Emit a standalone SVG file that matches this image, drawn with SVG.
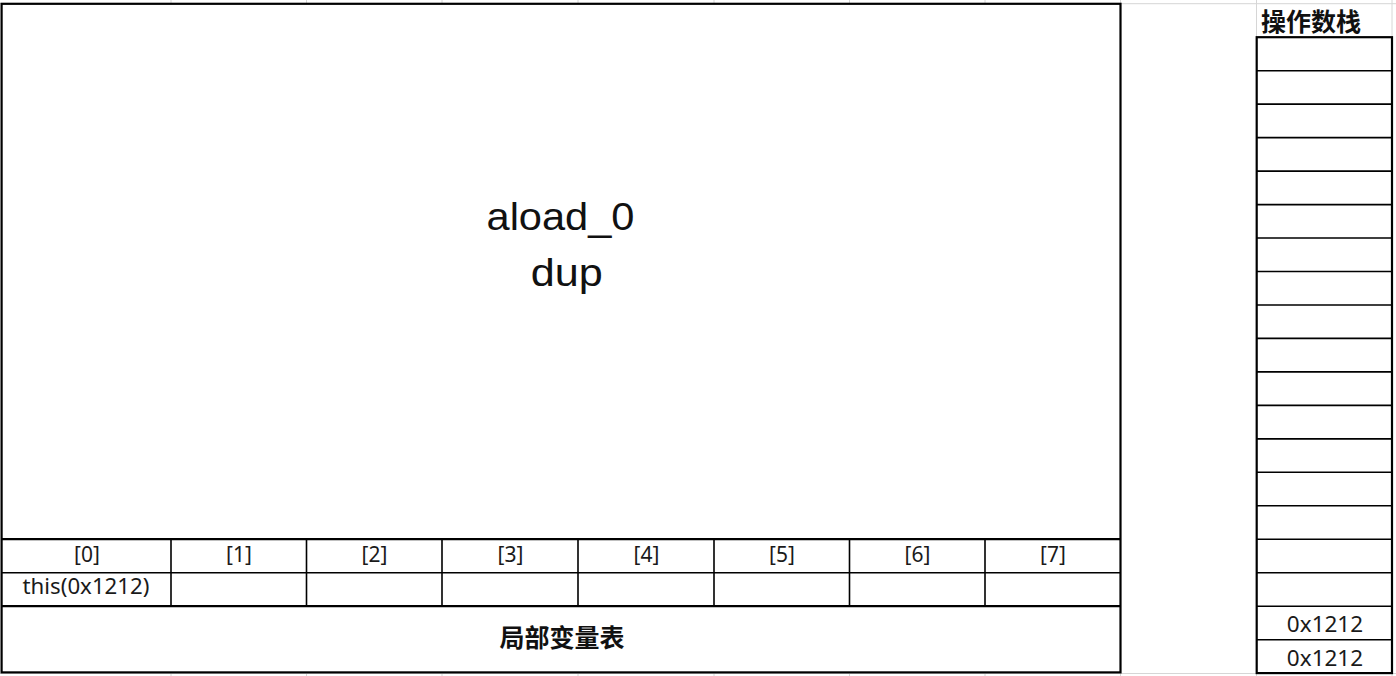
<svg xmlns="http://www.w3.org/2000/svg" width="1396" height="676" viewBox="0 0 1396 676">
<style>
.grid{stroke:#d6d6d6;stroke-width:1;fill:none}
.thick{stroke:#000;stroke-width:2.2;fill:none}
.thin{stroke:#000;stroke-width:1.6;fill:none}
.lbl{font-family:"Noto Sans","Liberation Sans",sans-serif;font-size:21px;fill:#1a1a1a;text-anchor:middle}
.val{font-family:"Noto Sans","Liberation Sans",sans-serif;font-size:22.5px;fill:#1a1a1a;text-anchor:middle}
.code{font-family:"Liberation Sans","Noto Sans",sans-serif;font-size:38px;fill:#111;text-anchor:middle}
.cjk{font-family:"Noto Sans CJK SC","Noto Sans",sans-serif;font-weight:bold;font-size:25px;fill:#111}
</style>
<rect width="1396" height="676" fill="#fff"/>
<g id="gridlines" class="grid">
<path d="M0 3.7H1396M0 673.5H1396"/>
<path d="M171 0V4M306.5 0V4M442 0V4M578 0V4M714 0V4M849.5 0V4M985 0V4M1120.5 0V4M1256.5 0V37M1392 0V37"/>
<path d="M171 673V676M306.5 673V676M442 673V676M578 673V676M714 673V676M849.5 673V676M985 673V676M1120.5 673V676M1256.5 673V676M1392 673V676"/>
</g>
<g id="connectors"/>
<g id="code-area">
<rect class="thick" x="1.6" y="3.8" width="1118.9" height="668.6"/>
<text class="code" x="560.5" y="230" textLength="148" lengthAdjust="spacingAndGlyphs">aload_0</text>
<text class="code" x="566.7" y="286" textLength="72" lengthAdjust="spacingAndGlyphs">dup</text>
</g>
<g id="local-variable-table">
<path class="thick" d="M1.6 539.2H1120.5M1.6 606.2H1120.5"/>
<path class="thin" d="M1.6 572.7H1120.5"/>
<path class="thin" d="M171 539.2V606.2M306.5 539.2V606.2M442 539.2V606.2M578 539.2V606.2M714 539.2V606.2M849.5 539.2V606.2M985 539.2V606.2"/>
<text class="lbl" x="87" y="562">[0]</text>
<text class="lbl" x="239" y="562">[1]</text>
<text class="lbl" x="374.5" y="562">[2]</text>
<text class="lbl" x="510.5" y="562">[3]</text>
<text class="lbl" x="646.5" y="562">[4]</text>
<text class="lbl" x="782" y="562">[5]</text>
<text class="lbl" x="917.5" y="562">[6]</text>
<text class="lbl" x="1053" y="562">[7]</text>
<text class="lbl" x="86" y="594" textLength="127" lengthAdjust="spacingAndGlyphs">this(0x1212)</text>
<text class="cjk" x="562" y="647" text-anchor="middle">局部变量表</text>
</g>
<g id="operand-stack">
<text class="cjk" x="1261" y="31">操作数栈</text>
<rect class="thick" x="1256.7" y="37.2" width="135.3" height="635.9"/>
<path class="thin" d="M1256.7 70.7H1392M1256.7 104.1H1392M1256.7 137.6H1392M1256.7 171.1H1392M1256.7 204.6H1392M1256.7 238H1392M1256.7 271.5H1392M1256.7 305H1392M1256.7 338.4H1392M1256.7 371.9H1392M1256.7 405.4H1392M1256.7 438.9H1392M1256.7 472.3H1392M1256.7 505.8H1392M1256.7 539.3H1392M1256.7 572.7H1392M1256.7 606.2H1392M1256.7 639.7H1392"/>
<text class="val" x="1325" y="632">0x1212</text>
<text class="val" x="1325" y="666">0x1212</text>
</g>
</svg>
